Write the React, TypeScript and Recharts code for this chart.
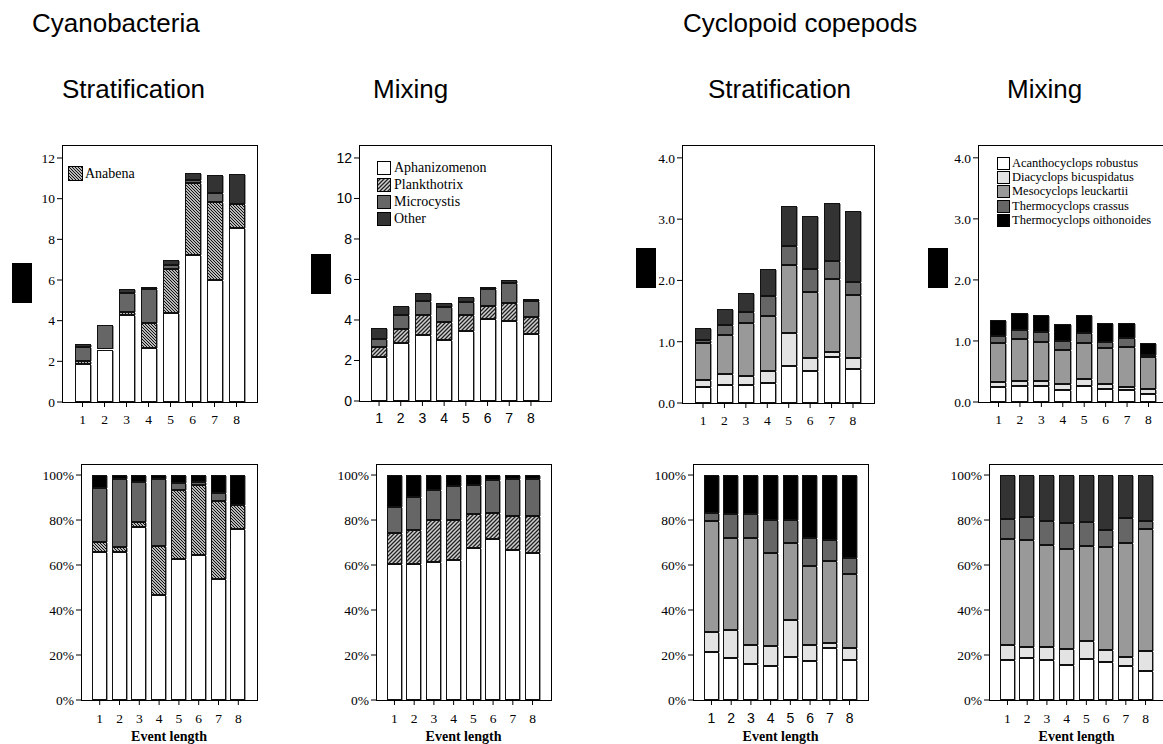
import React from 'react';
import { BarChart, Bar, XAxis, YAxis } from 'recharts';

const eventLength = ['1', '2', '3', '4', '5', '6', '7', '8'];

// Cyanobacteria – stratification
const csAphanizomenon = [1.88, 2.54, 4.28, 2.65, 4.38, 7.25, 6.02, 8.54];
const csAnabena = [0.13, 0.08, 0.13, 1.25, 2.16, 3.52, 3.83, 1.2];
const csMicrocystis = [0.68, 1.17, 0.97, 1.67, 0.21, 0.13, 0.43, 0.0];
const csOther = [0.17, 0.06, 0.18, 0.11, 0.25, 0.36, 0.87, 1.49];

// Cyanobacteria – mixing
const cmAphanizomenon = [2.16, 2.85, 3.26, 3.02, 3.46, 4.04, 3.97, 3.3];
const cmPlankthotrix = [0.49, 0.71, 0.99, 0.87, 0.79, 0.66, 0.89, 0.84];
const cmMicrocystis = [0.42, 0.69, 0.71, 0.73, 0.66, 0.82, 0.99, 0.82];
const cmOther = [0.51, 0.45, 0.36, 0.24, 0.22, 0.13, 0.1, 0.1];

// Cyclopoid copepods – stratification
const ysAcanthocyclops = [0.26, 0.29, 0.29, 0.33, 0.61, 0.53, 0.75, 0.56];
const ysDiacyclops = [0.11, 0.19, 0.15, 0.19, 0.54, 0.21, 0.08, 0.17];
const ysMesocyclops = [0.61, 0.63, 0.86, 0.9, 1.1, 1.07, 1.19, 1.03];
const ysTcrassus = [0.04, 0.16, 0.19, 0.32, 0.32, 0.38, 0.3, 0.22];
const ysToithonoides = [0.21, 0.27, 0.31, 0.44, 0.65, 0.86, 0.94, 1.16];

// Cyclopoid copepods – mixing
const ymAcanthocyclops = [0.24, 0.27, 0.255, 0.2, 0.26, 0.22, 0.196, 0.125];
const ymDiacyclops = [0.09, 0.07, 0.085, 0.09, 0.11, 0.07, 0.054, 0.087];
const ymMesocyclops = [0.63, 0.69, 0.645, 0.57, 0.6, 0.595, 0.655, 0.525];
const ymTcrassus = [0.12, 0.15, 0.155, 0.145, 0.155, 0.1, 0.145, 0.033];
const ymToithonoides = [0.26, 0.27, 0.29, 0.275, 0.295, 0.315, 0.25, 0.2];

const absTicks12 = [0, 2, 4, 6, 8, 10, 12];
const absTicks4 = [0, 1, 2, 3, 4];
const pctTicks = [0, 20, 40, 60, 80, 100];

const SERIF = "'Liberation Serif', 'Times New Roman', 'DejaVu Serif', serif";
const SANS = "'Liberation Sans', Arial, 'DejaVu Sans', sans-serif";

const HATCH_BACK = 'url(#hatchBack)';
const HATCH_FWD = 'url(#hatchFwd)';

type Series = { key: string; values: number[]; fill: string };

function buildRows(series: Series[], percent: boolean) {
  return eventLength.map((name, i) => {
    const row: any = { name };
    const total = series.reduce((s, se) => s + se.values[i], 0);
    series.forEach((se) => {
      row[se.key] = percent ? (se.values[i] / total) * 100 : se.values[i];
    });
    return row;
  });
}

const SegShape = (p: any) => {
  const { x, y, width, height, fill } = p;
  if (!(height > 0.05)) return <g />;
  const x0 = Math.round(x) + 0.5;
  const x1 = Math.round(x + width) - 0.5;
  const y0 = Math.round(y) + 0.5;
  const y1 = Math.round(y + height) - 0.5;
  return (
    <g shapeRendering="crispEdges">
      <rect x={x0} y={y0} width={Math.max(0, x1 - x0)} height={Math.max(0, y1 - y0)} fill={fill} stroke="#111" strokeWidth={1} />
      <line x1={x1 + 1} x2={x1 + 1} y1={y0} y2={y1 + 0.5} stroke="#9a9a9a" strokeWidth={1} />
    </g>
  );
};

type PanelProps = {
  l: number; t: number; r: number; b: number;
  series: Series[]; percent?: boolean;
  yMax: number; yTicks: number[]; yFmt: (v: number) => string;
  yFont: string; xFont: string; yFontSize: number; xFontSize: number;
  barSize: number; pad: number; xTitle?: boolean;
};

function Panel(p: PanelProps) {
  const ML = 60, MT = 12, MR = 12;
  const MB = p.xTitle ? 744 - p.b : 32;
  const w = p.r - p.l + ML + MR;
  const h = p.b - p.t + MT + MB;
  const rows = buildRows(p.series, !!p.percent);
  return (
    <>
      <div style={{ position: 'absolute', left: p.l - ML, top: p.t - MT, width: w, height: h }}>
        <BarChart width={w} height={h} data={rows} margin={{ top: MT, right: MR, left: 0, bottom: 0 }}>
          <XAxis
            dataKey="name"
            type="category"
            interval={0}
            height={MB}
            stroke="#000"
            padding={{ left: p.pad, right: p.pad }}
            axisLine={false}
            tickSize={5}
            tickMargin={p.xTitle ? 8 : 7}
            tickLine={{ stroke: '#000' }}
            tick={{ fill: '#000', fontSize: p.xFontSize, fontFamily: p.xFont }}
            label={p.xTitle ? { value: 'Event length', position: 'insideBottom', offset: 3, style: { fill: '#000', fontFamily: SERIF, fontWeight: 'bold', fontSize: 14 } } : undefined}
          />
          <YAxis
            type="number"
            width={ML}
            stroke="#000"
            domain={[0, p.yMax]}
            ticks={p.yTicks}
            allowDataOverflow
            axisLine={false}
            tickSize={5}
            tickMargin={2}
            tickLine={{ stroke: '#000' }}
            tickFormatter={p.yFmt}
            tick={{ fill: '#000', fontSize: p.yFontSize, fontFamily: p.yFont }}
          />
          {p.series.map((se) => (
            <Bar key={se.key} dataKey={se.key} stackId="s" fill={se.fill} barSize={p.barSize} isAnimationActive={false} shape={SegShape} />
          ))}
        </BarChart>
      </div>
      <div
        style={{
          position: 'absolute', left: p.l, top: p.t, width: p.r - p.l + 1, height: p.b - p.t + 1,
          border: '1px solid #000', boxSizing: 'border-box', pointerEvents: 'none',
        }}
      />
    </>
  );
}

type LegendItem = { label: string; fill: string };

function HtmlLegend(props: { left: number; top: number; step: number; size: number; fontSize: number; gap: number; items: LegendItem[] }) {
  return (
    <>
      {props.items.map((it, i) => (
        <div
          key={it.label}
          style={{
            position: 'absolute', left: props.left, top: props.top + i * props.step, height: props.size,
            display: 'flex', alignItems: 'center', whiteSpace: 'nowrap',
          }}
        >
          <svg width={props.size} height={props.size} style={{ display: 'block' }}>
            <rect x={0.5} y={0.5} width={props.size - 1} height={props.size - 1} fill={it.fill} stroke="#000" strokeWidth={1} />
          </svg>
          <span style={{ marginLeft: props.gap, fontFamily: SERIF, fontSize: props.fontSize, color: '#000', lineHeight: `${props.size}px` }}>{it.label}</span>
        </div>
      ))}
    </>
  );
}

const heading = (text: string, left: number, top: number) => (
  <div style={{ position: 'absolute', left, top, fontFamily: SANS, fontSize: 26, lineHeight: '26px', color: '#000', whiteSpace: 'nowrap' }}>{text}</div>
);

const blackBox = (left: number, top: number) => (
  <div style={{ position: 'absolute', left, top, width: 20, height: 40, background: '#000' }} />
);

const intFmt = (v: number) => String(v);
const decFmt = (v: number) => v.toFixed(1);
const pctFmt = (v: number) => `${v}%`;

export default function App() {
  const cyanoStrat = (other: string): Series[] => [
    { key: 'Aphanizomenon', values: csAphanizomenon, fill: '#ffffff' },
    { key: 'Anabena', values: csAnabena, fill: HATCH_BACK },
    { key: 'Microcystis', values: csMicrocystis, fill: '#666666' },
    { key: 'Other', values: csOther, fill: other },
  ];
  const cyanoMix = (other: string): Series[] => [
    { key: 'Aphanizomenon', values: cmAphanizomenon, fill: '#ffffff' },
    { key: 'Plankthotrix', values: cmPlankthotrix, fill: HATCH_FWD },
    { key: 'Microcystis', values: cmMicrocystis, fill: '#666666' },
    { key: 'Other', values: cmOther, fill: other },
  ];
  const cycloStrat = (top: string): Series[] => [
    { key: 'Acanthocyclops robustus', values: ysAcanthocyclops, fill: '#ffffff' },
    { key: 'Diacyclops bicuspidatus', values: ysDiacyclops, fill: '#e3e3e3' },
    { key: 'Mesocyclops leuckartii', values: ysMesocyclops, fill: '#999999' },
    { key: 'Thermocyclops crassus', values: ysTcrassus, fill: '#666666' },
    { key: 'Thermocyclops oithonoides', values: ysToithonoides, fill: top },
  ];
  const cycloMix = (top: string): Series[] => [
    { key: 'Acanthocyclops robustus', values: ymAcanthocyclops, fill: '#ffffff' },
    { key: 'Diacyclops bicuspidatus', values: ymDiacyclops, fill: '#e3e3e3' },
    { key: 'Mesocyclops leuckartii', values: ymMesocyclops, fill: '#999999' },
    { key: 'Thermocyclops crassus', values: ymTcrassus, fill: '#666666' },
    { key: 'Thermocyclops oithonoides', values: ymToithonoides, fill: top },
  ];

  return (
    <div style={{ position: 'absolute', left: 0, top: 0, width: 1163, height: 744, overflow: 'hidden', background: '#fff' }}>
      <svg width={0} height={0} style={{ position: 'absolute' }}>
        <defs>
          <pattern id="hatchBack" patternUnits="userSpaceOnUse" width={3} height={3}>
            <rect width={3} height={3} fill="#b8b8b8" />
            <path d="M0,0 L3,3 M-1,2 L1,4 M2,-1 L4,1" stroke="#111" strokeWidth={1} />
          </pattern>
          <pattern id="hatchFwd" patternUnits="userSpaceOnUse" width={4} height={4}>
            <rect width={4} height={4} fill="#d0d0d0" />
            <path d="M0,4 L4,0 M-1,1 L1,-1 M3,5 L5,3" stroke="#222" strokeWidth={1.3} />
          </pattern>
        </defs>
      </svg>

      {heading('Cyanobacteria', 32, 10)}
      {heading('Stratification', 62, 76)}
      {heading('Mixing', 373, 76)}
      {heading('Cyclopoid copepods', 683, 10)}
      {heading('Stratification', 708, 76)}
      {heading('Mixing', 1007, 76)}

      {blackBox(12, 263)}
      {blackBox(311, 254)}
      {blackBox(636, 248)}
      {blackBox(928, 248)}

      <Panel l={62} t={145} r={257} b={402} series={cyanoStrat('#333333')} yMax={12.64} yTicks={absTicks12} yFmt={intFmt}
        yFont={SERIF} xFont={SERIF} yFontSize={13.5} xFontSize={13.5} barSize={16} pad={9.5} />
      <Panel l={359} t={145} r={551} b={401} series={cyanoMix('#333333')} yMax={12.64} yTicks={absTicks12} yFmt={intFmt}
        yFont={SANS} xFont={SANS} yFontSize={14} xFontSize={14} barSize={16} pad={9.2} />
      <Panel l={682} t={145} r={874} b={403} series={cycloStrat('#333333')} yMax={4.21} yTicks={absTicks4} yFmt={decFmt}
        yFont={SERIF} xFont={SERIF} yFontSize={13.5} xFontSize={13.5} barSize={16} pad={10.3} />
      <Panel l={978} t={145} r={1169} b={402} series={cycloMix('#000000')} yMax={4.21} yTicks={absTicks4} yFmt={decFmt}
        yFont={SERIF} xFont={SERIF} yFontSize={13.5} xFontSize={13.5} barSize={16.5} pad={9.8} />

      <Panel l={81} t={464} r={257} b={700} percent series={cyanoStrat('#000000')} yMax={104.9} yTicks={pctTicks} yFmt={pctFmt}
        yFont={SERIF} xFont={SERIF} yFontSize={13.5} xFontSize={13.5} barSize={15} pad={8.8} xTitle />
      <Panel l={376} t={464} r={551} b={700} percent series={cyanoMix('#000000')} yMax={104.9} yTicks={pctTicks} yFmt={pctFmt}
        yFont={SERIF} xFont={SERIF} yFontSize={13.5} xFontSize={13.5} barSize={15} pad={8.6} xTitle />
      <Panel l={693} t={464} r={868} b={700} percent series={cycloStrat('#000000')} yMax={104.9} yTicks={pctTicks} yFmt={pctFmt}
        yFont={SERIF} xFont={SANS} yFontSize={13.5} xFontSize={14} barSize={15} pad={8.6} xTitle />
      <Panel l={989} t={464} r={1164} b={700} percent series={cycloMix('#333333')} yMax={104.9} yTicks={pctTicks} yFmt={pctFmt}
        yFont={SERIF} xFont={SERIF} yFontSize={13.5} xFontSize={13.5} barSize={15} pad={8.6} xTitle />

      <HtmlLegend left={68} top={166} step={17} size={15} fontSize={14} gap={2}
        items={[{ label: 'Anabena', fill: HATCH_BACK }]} />
      <HtmlLegend left={377} top={161} step={17} size={14} fontSize={14} gap={3}
        items={[
          { label: 'Aphanizomenon', fill: '#ffffff' },
          { label: 'Plankthotrix', fill: HATCH_FWD },
          { label: 'Microcystis', fill: '#666666' },
          { label: 'Other', fill: '#333333' },
        ]} />
      <HtmlLegend left={997} top={157} step={14.2} size={13} fontSize={12.5} gap={2}
        items={[
          { label: 'Acanthocyclops robustus', fill: '#ffffff' },
          { label: 'Diacyclops bicuspidatus', fill: '#e3e3e3' },
          { label: 'Mesocyclops leuckartii', fill: '#999999' },
          { label: 'Thermocyclops crassus', fill: '#666666' },
          { label: 'Thermocyclops oithonoides', fill: '#000000' },
        ]} />
    </div>
  );
}
